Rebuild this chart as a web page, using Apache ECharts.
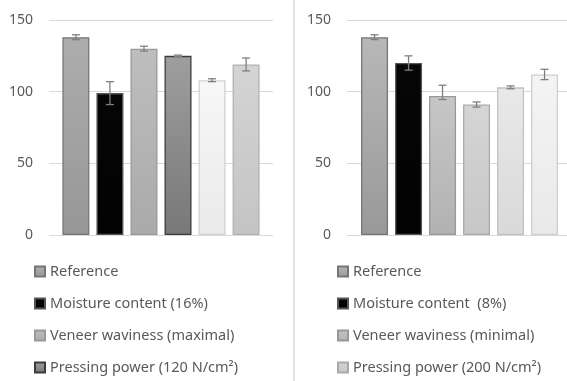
<!DOCTYPE html>
<html>
<head>
<meta charset="utf-8">
<script src="https://cdn.jsdelivr.net/npm/echarts@6/dist/echarts.min.js"></script>
<style>html,body{margin:0;padding:0;background:#fff}#c{width:567px;height:381px}</style>
</head>
<body>
<div id="c"></div>
<script>
// ---- data ----
const yTicks = [0, 50, 100, 150];
const leftNames = ['Reference', 'Moisture content (16%)', 'Veneer waviness (maximal)', 'Pressing power (120 N/cm²)', 'Left series 5', 'Left series 6'];
const leftValues = [138, 99, 130, 125, 108, 119];
const leftErrMinus = [1.7, 8, 1.7, 0.5, 1, 4.5];
const leftErrPlus = [1.7, 8, 1.7, 0.5, 1, 4.5];
const rightNames = ['Reference ', 'Moisture content  (8%)', 'Veneer waviness (minimal)', 'Pressing power (200 N/cm²)', 'Right series 5', 'Right series 6'];
const rightValues = [138, 120, 97, 91, 103, 112];
const rightErrMinus = [1.7, 5, 2.5, 1.8, 1, 3.6];
const rightErrPlus = [1.7, 5, 7.5, 1.8, 1, 3.6];
const leftLegend = leftNames.slice(0, 4);
const rightLegend = rightNames.slice(0, 4);

// ---- styles ----
const leftStyles = [
  ['#adadad', '#979797', '#767676'],
  ['#060606', '#020202', '#555555'],
  ['#bebebe', '#aaaaaa', '#999999'],
  ['#9e9e9e', '#787878', '#3c3c3c'],
  ['#f6f7f7', '#eaeaea', '#d2d2d2'],
  ['#d4d4d4', '#c4c4c4', '#b2b2b2']
];
const rightStyles = [
  ['#b8b8b8', '#999999', '#767676'],
  ['#060606', '#020202', '#555555'],
  ['#c6c6c6', '#b2b2b2', '#989898'],
  ['#d5d5d5', '#c7c7c7', '#a9a9a9'],
  ['#e9e9e9', '#d9d9d9', '#c2c2c2'],
  ['#f4f4f4', '#e9e9e9', '#cfcfcf']
];

function grad(s) {
  return new echarts.graphic.LinearGradient(0, 0, 0, 1, [
    { offset: 0, color: s[0] }, { offset: 1, color: s[1] }
  ]);
}

function barSeries(names, values, styles, axisIdx) {
  return names.map((n, i) => ({
    name: n,
    type: 'bar',
    xAxisIndex: axisIdx,
    yAxisIndex: axisIdx,
    barWidth: 27,
    barGap: '-100%',
    itemStyle: { color: grad(styles[i]), borderColor: styles[i][2], borderWidth: 1.3 },
    emphasis: { disabled: true },
    data: [[i, values[i]]]
  }));
}

function errSeries(values, em, ep, axisIdx) {
  return {
    type: 'custom',
    xAxisIndex: axisIdx,
    yAxisIndex: axisIdx,
    z: 5,
    silent: true,
    data: values.map((v, i) => [i, v, v - em[i], v + ep[i]]),
    renderItem: function (params, api) {
      const x = api.value(0);
      const lo = api.coord([x, api.value(2)]);
      const hi = api.coord([x, api.value(3)]);
      const w = 4;
      const st = { stroke: '#7f7f7f', lineWidth: 1.3 };
      return {
        type: 'group',
        children: [
          { type: 'line', shape: { x1: lo[0], y1: lo[1], x2: hi[0], y2: hi[1] }, style: st },
          { type: 'line', shape: { x1: lo[0] - w, y1: lo[1], x2: lo[0] + w, y2: lo[1] }, style: st },
          { type: 'line', shape: { x1: hi[0] - w, y1: hi[1], x2: hi[0] + w, y2: hi[1] }, style: st }
        ]
      };
    }
  };
}

const yAxisBase = {
  type: 'value', min: yTicks[0], max: yTicks[yTicks.length - 1], interval: 50,
  axisLine: { show: false }, axisTick: { show: false },
  axisLabel: { color: '#595959', fontSize: 14, fontFamily: 'Noto Sans', margin: 16 },
  splitLine: { lineStyle: { color: '#d9d9d9', width: 1 } }
};

const legendBase = {
  orient: 'vertical',
  itemWidth: 10, itemHeight: 10, itemGap: 17,
  padding: 0,
  height: 116,
  width: 225,
  icon: 'rect',
  selectedMode: false,
  textStyle: { color: '#595959', fontSize: 14.5, fontFamily: 'Noto Sans', lineHeight: 15 }
};

const chart = echarts.init(document.getElementById('c'), null, { renderer: 'canvas' });
chart.setOption({
  animation: false,
  backgroundColor: '#ffffff',
  grid: [
    { left: 49, width: 224, top: 20, height: 215 },
    { left: 347, width: 220, top: 20, height: 215 }
  ],
  xAxis: [
    { type: 'value', gridIndex: 0, min: -0.79, max: 5.79, show: false },
    { type: 'value', gridIndex: 1, min: -0.81, max: 5.66, show: false }
  ],
  yAxis: [
    Object.assign({ gridIndex: 0 }, yAxisBase),
    Object.assign({ gridIndex: 1 }, yAxisBase)
  ],
  legend: [
    Object.assign({ left: 34, top: 264, data: leftLegend }, legendBase),
    Object.assign({ left: 337, top: 264, data: rightLegend }, legendBase)
  ],
  graphic: [
    { type: 'line', shape: { x1: 294, y1: 0, x2: 294, y2: 381 }, style: { stroke: '#d9d9d9', lineWidth: 1.5 }, silent: true }
  ],
  series: [].concat(
    barSeries(leftNames, leftValues, leftStyles, 0),
    barSeries(rightNames, rightValues, rightStyles, 1),
    [errSeries(leftValues, leftErrMinus, leftErrPlus, 0), errSeries(rightValues, rightErrMinus, rightErrPlus, 1)]
  )
});
</script>
</body>
</html>
